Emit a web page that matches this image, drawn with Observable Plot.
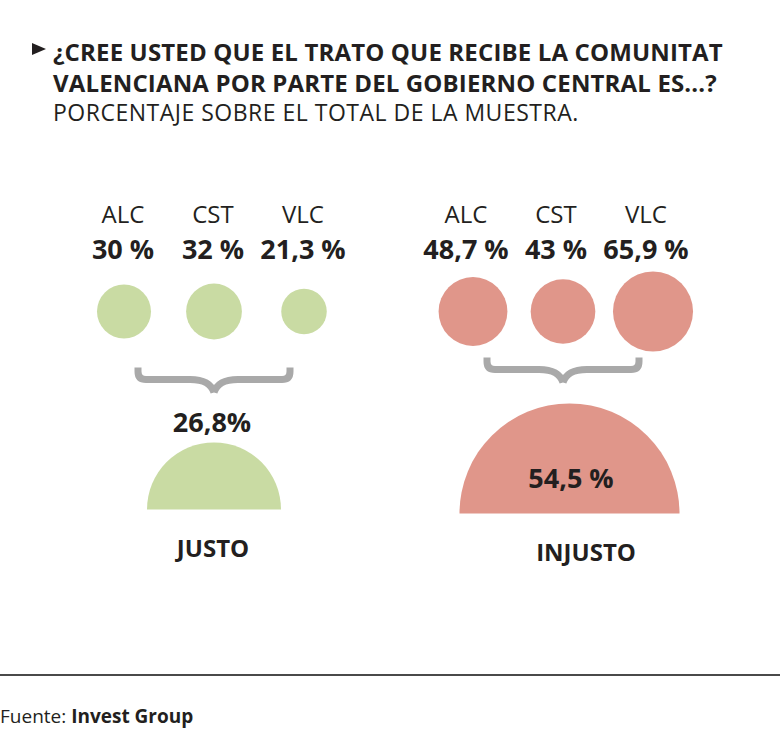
<!DOCTYPE html>
<html>
<head>
<meta charset="utf-8">
<script src="https://cdn.jsdelivr.net/npm/d3@7"></script>
<script src="https://cdn.jsdelivr.net/npm/@observablehq/plot@0.6"></script>
<style>
  html, body { margin: 0; padding: 0; background: #fff; }
  #wrap { position: relative; width: 780px; height: 739px; overflow: hidden; background: #fff; font-family: "Open Sans", sans-serif; color: #231f20; }
  .tri { position: absolute; left: 32px; top: 42.5px; width: 0; height: 0; border-top: 6px solid transparent; border-bottom: 6px solid transparent; border-left: 14px solid #231f20; }
  #title { position: absolute; left: 53px; top: 36px; font-size: 24px; font-weight: 700; line-height: 31px; letter-spacing: 0.15px; white-space: nowrap; }
  #sub { position: absolute; left: 53px; top: 97px; font-size: 23px; font-weight: 400; line-height: 31px; letter-spacing: 0.5px; white-space: nowrap; }
  #top { position: absolute; left: 0; top: 140px; }
  #bottom { position: absolute; left: 0; top: 395px; }
  .rule { position: absolute; left: 0; top: 674px; width: 780px; height: 1.5px; background: #4a4a4a; }
  .src { position: absolute; left: 0; top: 704px; font-size: 19px; line-height: 24px; white-space: nowrap; }
  .src b { font-weight: 700; }
</style>
</head>
<body>
<div id="wrap">
  <div class="tri"></div>
  <div id="title">¿CREE USTED QUE EL TRATO QUE RECIBE LA COMUNITAT<br>VALENCIANA POR PARTE DEL GOBIERNO CENTRAL ES...?</div>
  <div id="sub">PORCENTAJE SOBRE EL TOTAL DE LA MUESTRA.</div>
  <div id="top"></div>
  <div id="bottom"></div>
  <div class="rule"></div>
  <div class="src">Fuente: <b>Invest Group</b></div>
</div>
<script>
// ---- data ----
const groups = ["JUSTO", "INJUSTO"];
const regions = ["ALC", "CST", "VLC"];
const justoValues = [30, 32, 21.3];
const injustoValues = [48.7, 43, 65.9];
const totalValues = [26.8, 54.5];
const totalLabels = ["26,8%", "54,5 %"];

// ---- derived tables ----
const seriesByGroup = [justoValues, injustoValues];
const rows = groups.flatMap((g, gi) =>
  regions.map((r, ri) => ({group: g, region: r, value: seriesByGroup[gi][ri]}))
);
const totals = groups.map((g, gi) => ({group: g, value: totalValues[gi], label: totalLabels[gi]}));

const fmt = v => String(v).replace(".", ",") + " %";

// ---- layout (pixels inside each plot) ----
const FONT = "Open Sans";
const INK = "#231f20";
const GREEN = "#c9dba3";
const RED = "#e0968a";
const GRAY = "#a9a9a9";
const W = 780;
const topH = 260, botH = 180;
const rowName = 74.5, rowValue = 109.5, rowCircle = 171;
const textDx = {JUSTO: -1, INJUSTO: -7};
const braceRow = {JUSTO: 239, INJUSTO: 229};
const semiBase = {JUSTO: 114, INJUSTO: 118};
const semiDx = {JUSTO: 0, INJUSTO: 6.5};
const totalRow = {JUSTO: 27.5, INJUSTO: 83.5};
const totalDx = {JUSTO: -2, INJUSTO: 8};
const labelRow = {JUSTO: 153.5, INJUSTO: 157.5};
const labelDx = {JUSTO: -1, INJUSTO: 23};

// custom symbols
const brace = {
  draw(ctx, size) {
    const hw = Math.sqrt(size / Math.PI); // half width
    const up = 12, down = 13, rr = 8;
    for (const s of [-1, 1]) {
      ctx.moveTo(s * hw, -up);
      ctx.lineTo(s * hw, -rr);
      ctx.quadraticCurveTo(s * hw, 0, s * (hw - rr), 0);
      ctx.lineTo(s * 24, 0);
      ctx.bezierCurveTo(s * 10, 0, s * 3, 4, 0, down);
    }
  }
};
const semicircle = {
  draw(ctx, size) {
    const r = Math.sqrt(size / Math.PI);
    ctx.moveTo(-r, 0);
    ctx.arc(0, 0, r, Math.PI, 2 * Math.PI);
    ctx.closePath();
  }
};

const common = {
  width: W,
  marginLeft: 38.5,
  marginRight: W - 736.5,
  marginTop: 0,
  marginBottom: 0,
  fx: {domain: groups, range: [38.5, 736.5], padding: 0, axis: null, label: null},
  x: {type: "point", domain: regions, padding: 0.918, axis: null},
  color: {domain: groups, range: [GREEN, RED]},
  style: {background: "transparent", overflow: "visible"}
};

const topMarks = [
  Plot.dot(rows, {fx: "group", x: "region", y: () => rowCircle, r: "value", fill: "group", stroke: null})
];
for (const g of groups) {
  const gr = rows.filter(d => d.group === g);
  topMarks.push(
    Plot.text(gr, {fx: "group", x: "region", y: () => rowName, dx: textDx[g], text: "region",
      fontFamily: FONT, fontSize: 24, fontWeight: 400, fill: INK}),
    Plot.text(gr, {fx: "group", x: "region", y: () => rowValue, dx: textDx[g], text: d => fmt(d.value),
      fontFamily: FONT, fontSize: 27, fontWeight: 700, fill: INK})
  );
}
topMarks.push(
  Plot.dot(groups, {fx: d => d, frameAnchor: "middle", y: d => braceRow[d], r: 76,
    symbol: brace, fill: "none", stroke: GRAY, strokeWidth: 7, strokeLinejoin: "round"})
);

const topPlot = Plot.plot({
  ...common,
  height: topH,
  y: {type: "linear", domain: [0, topH], range: [0, topH], axis: null},
  r: {type: "sqrt", domain: [0, 100], range: [0, 49.3]},
  marks: topMarks
});
document.getElementById("top").appendChild(topPlot);

const botMarks = [];
for (const g of groups) {
  const t = totals.filter(d => d.group === g);
  botMarks.push(
    Plot.dot(t, {fx: "group", frameAnchor: "middle", y: () => semiBase[g], dx: semiDx[g], r: "value",
      symbol: semicircle, fill: "group", stroke: null}),
    Plot.text(t, {fx: "group", frameAnchor: "middle", y: () => totalRow[g], dx: totalDx[g], text: "label",
      fontFamily: FONT, fontSize: 27, fontWeight: 700, fill: INK}),
    Plot.text(t, {fx: "group", frameAnchor: "middle", y: () => labelRow[g], dx: labelDx[g], text: "group",
      fontFamily: FONT, fontSize: 24, fontWeight: 700, fill: INK})
  );
}
const botPlot = Plot.plot({
  ...common,
  height: botH,
  y: {type: "linear", domain: [0, botH], range: [0, botH], axis: null},
  r: {type: "linear", domain: d3.extent(totalValues), range: [67, 110]},
  marks: botMarks
});
document.getElementById("bottom").appendChild(botPlot);
</script>
</body>
</html>
